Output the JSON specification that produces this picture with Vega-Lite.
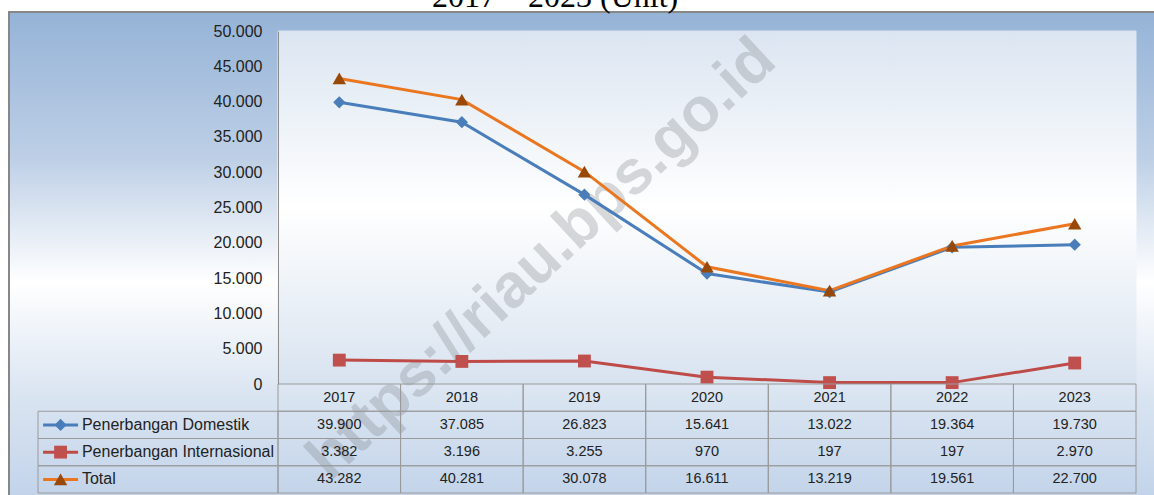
{
  "$schema": "https://vega.github.io/schema/vega-lite/v6.json",
  "width": 1145,
  "height": 483,
  "autosize": "none",
  "padding": {"left": 9, "top": 12, "right": 0, "bottom": 0},
  "title": {
    "text": "2017 – 2023 (Unit)",
    "font": "Liberation Serif",
    "fontSize": 32,
    "fontWeight": "normal",
    "color": "#000000",
    "anchor": "start",
    "frame": "group",
    "baseline": "alphabetic",
    "offset": 0,
    "dx": 423,
    "dy": 26.5
  },
  "config": {
    "locale": {
      "number": {"decimal": ",", "thousands": ".", "grouping": [3], "currency": ["Rp", ""]}
    },
    "view": {
      "fill": {
        "gradient": "linear", "x1": 0, "y1": 0, "x2": 0, "y2": 1,
        "stops": [
          {"offset": 0, "color": "#95B3D7"},
          {"offset": 0.3, "color": "#BDCFE6"},
          {"offset": 0.56, "color": "#FFFFFF"},
          {"offset": 0.8, "color": "#D9E4F1"},
          {"offset": 1, "color": "#C3D4EA"}
        ]
      },
      "stroke": "#878787",
      "strokeWidth": 2,
      "strokeDash": [1145, 1628, 483]
    },
    "text": {"font": "Liberation Sans", "color": "#222222"}
  },
  "datasets": {
    "d": [
      {"year": "2017", "series": "Penerbangan Domestik", "value": 39900},
      {"year": "2018", "series": "Penerbangan Domestik", "value": 37085},
      {"year": "2019", "series": "Penerbangan Domestik", "value": 26823},
      {"year": "2020", "series": "Penerbangan Domestik", "value": 15641},
      {"year": "2021", "series": "Penerbangan Domestik", "value": 13022},
      {"year": "2022", "series": "Penerbangan Domestik", "value": 19364},
      {"year": "2023", "series": "Penerbangan Domestik", "value": 19730},
      {"year": "2017", "series": "Penerbangan Internasional", "value": 3382},
      {"year": "2018", "series": "Penerbangan Internasional", "value": 3196},
      {"year": "2019", "series": "Penerbangan Internasional", "value": 3255},
      {"year": "2020", "series": "Penerbangan Internasional", "value": 970},
      {"year": "2021", "series": "Penerbangan Internasional", "value": 197},
      {"year": "2022", "series": "Penerbangan Internasional", "value": 197},
      {"year": "2023", "series": "Penerbangan Internasional", "value": 2970},
      {"year": "2017", "series": "Total", "value": 43282},
      {"year": "2018", "series": "Total", "value": 40281},
      {"year": "2019", "series": "Total", "value": 30078},
      {"year": "2020", "series": "Total", "value": 16611},
      {"year": "2021", "series": "Total", "value": 13219},
      {"year": "2022", "series": "Total", "value": 19561},
      {"year": "2023", "series": "Total", "value": 22700}
    ],
    "wm": [{"t": "https://riau.bps.go.id"}]
  },
  "resolve": {"scale": {"x": "independent", "y": "independent"}, "axis": {"x": "independent", "y": "independent"}},
  "layer": [
    {
      "layer": [
        {
          "data": {"name": "d"},
          "transform": [{"aggregate": [{"op": "count", "as": "n"}], "groupby": ["year"]}],
          "mark": {
            "type": "rect",
            "fill": {
              "gradient": "linear", "x1": 0, "y1": 0, "x2": 0, "y2": 1,
              "stops": [
                {"offset": 0, "color": "#DBE5F1"},
                {"offset": 0.5, "color": "#FFFFFF"},
                {"offset": 1, "color": "#D8E3F0"}
              ]
            },
            "stroke": {
              "gradient": "linear", "x1": 0, "y1": 0, "x2": 0, "y2": 1,
              "stops": [
                {"offset": 0, "color": "#DBE5F1"},
                {"offset": 0.5, "color": "#FFFFFF"},
                {"offset": 1, "color": "#D8E3F0"}
              ]
            },
            "strokeWidth": 1
          },
          "encoding": {
            "x": {"field": "year", "type": "nominal", "scale": {"domain": ["2017", "2018", "2019", "2020", "2021", "2022", "2023"], "range": [269, 1127], "paddingInner": 0, "paddingOuter": 0}, "axis": null},
            "y": {"datum": 0, "type": "quantitative", "scale": {"domain": [0, 50000], "range": [372, 19], "nice": false, "zero": false},
              "axis": {"orient": "left", "offset": -269, "values": [0, 5000, 10000, 15000, 20000, 25000, 30000, 35000, 40000, 45000, 50000], "format": ",d", "ticks": false, "grid": false, "labelPadding": 16, "labelFont": "Liberation Sans", "labelFontSize": 16, "labelColor": "#222222", "domainColor": "#8C8C8C", "domainWidth": 1, "title": null, "zindex": 2, "labelFlush": false, "labelOverlap": false}},
            "y2": {"datum": 50000}
          }
        },
        {
          "data": {"name": "wm"},
          "mark": {"type": "text", "angle": -43, "font": "Liberation Sans", "fontWeight": "bold", "fontSize": 62, "fill": "#7F8489", "opacity": 0.3, "align": "center", "baseline": "middle"},
          "encoding": {
            "x": {"datum": "2019", "type": "nominal", "bandPosition": 0.15},
            "y": {"datum": 17700, "type": "quantitative"},
            "text": {"field": "t"}
          }
        },
        {
          "data": {"name": "d"},
          "mark": {"type": "line", "strokeWidth": 3},
          "encoding": {
            "x": {"field": "year", "type": "nominal"},
            "y": {"field": "value", "type": "quantitative"},
            "color": {"field": "series", "type": "nominal", "scale": {"domain": ["Penerbangan Domestik", "Penerbangan Internasional", "Total"], "range": ["#4A7EBB", "#BE4B48", "#EB7620"]}, "legend": null}
          }
        },
        {
          "data": {"name": "d"},
          "mark": {"type": "point", "filled": true, "opacity": 1, "strokeWidth": 0},
          "encoding": {
            "x": {"field": "year", "type": "nominal"},
            "y": {"field": "value", "type": "quantitative"},
            "shape": {"field": "series", "type": "nominal", "scale": {"domain": ["Penerbangan Domestik", "Penerbangan Internasional", "Total"], "range": ["diamond", "square", "triangle-up"]}, "legend": null},
            "fill": {"field": "series", "type": "nominal", "scale": {"domain": ["Penerbangan Domestik", "Penerbangan Internasional", "Total"], "range": ["#4A7EBB", "#C0504D", "#984807"]}, "legend": null},
            "size": {"field": "series", "type": "nominal", "scale": {"domain": ["Penerbangan Domestik", "Penerbangan Internasional", "Total"], "range": [150, 180, 230]}, "legend": null}
          }
        }
      ]
    },
    {
      "layer": [
        {
          "data": {"name": "d"},
          "mark": {"type": "rect", "fill": null, "stroke": "#9A9A9A", "strokeWidth": 1},
          "encoding": {
            "x": {"field": "year", "type": "nominal", "scale": {"domain": ["2017", "2018", "2019", "2020", "2021", "2022", "2023"], "range": [269, 1127], "paddingInner": 0, "paddingOuter": 0}, "axis": null},
            "y": {"field": "series", "type": "nominal", "scale": {"domain": ["hdr", "Penerbangan Domestik", "Penerbangan Internasional", "Total"], "range": [372, 481], "paddingInner": 0, "paddingOuter": 0}, "axis": null}
          }
        },
        {
          "data": {"name": "d"},
          "transform": [{"aggregate": [{"op": "count", "as": "n"}], "groupby": ["year"]}],
          "mark": {"type": "rect", "fill": null, "stroke": "#9A9A9A", "strokeWidth": 1},
          "encoding": {
            "x": {"field": "year", "type": "nominal"},
            "y": {"datum": "hdr", "type": "nominal"}
          }
        },
        {
          "data": {"name": "d"},
          "transform": [{"aggregate": [{"op": "count", "as": "n"}], "groupby": ["year"]}],
          "mark": {"type": "text", "fontSize": 14.5, "baseline": "middle", "align": "center"},
          "encoding": {
            "x": {"field": "year", "type": "nominal"},
            "y": {"datum": "hdr", "type": "nominal"},
            "text": {"field": "year"}
          }
        },
        {
          "data": {"name": "d"},
          "mark": {"type": "text", "fontSize": 14.5, "baseline": "middle", "align": "center"},
          "encoding": {
            "x": {"field": "year", "type": "nominal"},
            "y": {"field": "series", "type": "nominal"},
            "text": {"field": "value", "type": "quantitative", "format": ",d"}
          }
        }
      ]
    },
    {
      "data": {"name": "d"},
      "transform": [{"aggregate": [{"op": "count", "as": "n"}], "groupby": ["series"]}],
      "layer": [
        {
          "mark": {"type": "rect", "fill": null, "stroke": "#9A9A9A", "strokeWidth": 1},
          "encoding": {
            "x": {"datum": "L", "type": "nominal", "scale": {"domain": ["L"], "range": [29, 269], "paddingInner": 0, "paddingOuter": 0}, "axis": null},
            "y": {"field": "series", "type": "nominal", "scale": {"domain": ["hdr", "Penerbangan Domestik", "Penerbangan Internasional", "Total"], "range": [372, 481], "paddingInner": 0, "paddingOuter": 0}, "axis": null}
          }
        },
        {
          "mark": {"type": "point", "shape": "M-1,0L1,0", "size": 1225, "filled": false, "strokeWidth": 3, "opacity": 1},
          "encoding": {
            "x": {"datum": "L", "type": "nominal", "bandPosition": 0.094},
            "y": {"field": "series", "type": "nominal"},
            "stroke": {"field": "series", "type": "nominal", "scale": {"domain": ["Penerbangan Domestik", "Penerbangan Internasional", "Total"], "range": ["#4A7EBB", "#BE4B48", "#EB7620"]}, "legend": null}
          }
        },
        {
          "mark": {"type": "point", "filled": true, "opacity": 1, "strokeWidth": 0},
          "encoding": {
            "x": {"datum": "L", "type": "nominal", "bandPosition": 0.094},
            "y": {"field": "series", "type": "nominal"},
            "shape": {"field": "series", "type": "nominal", "legend": null},
            "fill": {"field": "series", "type": "nominal", "legend": null},
            "size": {"field": "series", "type": "nominal", "legend": null}
          }
        },
        {
          "mark": {"type": "text", "fontSize": 16, "baseline": "middle", "align": "left"},
          "encoding": {
            "x": {"datum": "L", "type": "nominal", "bandPosition": 0.183},
            "y": {"field": "series", "type": "nominal"},
            "text": {"field": "series"}
          }
        }
      ]
    }
  ]
}
